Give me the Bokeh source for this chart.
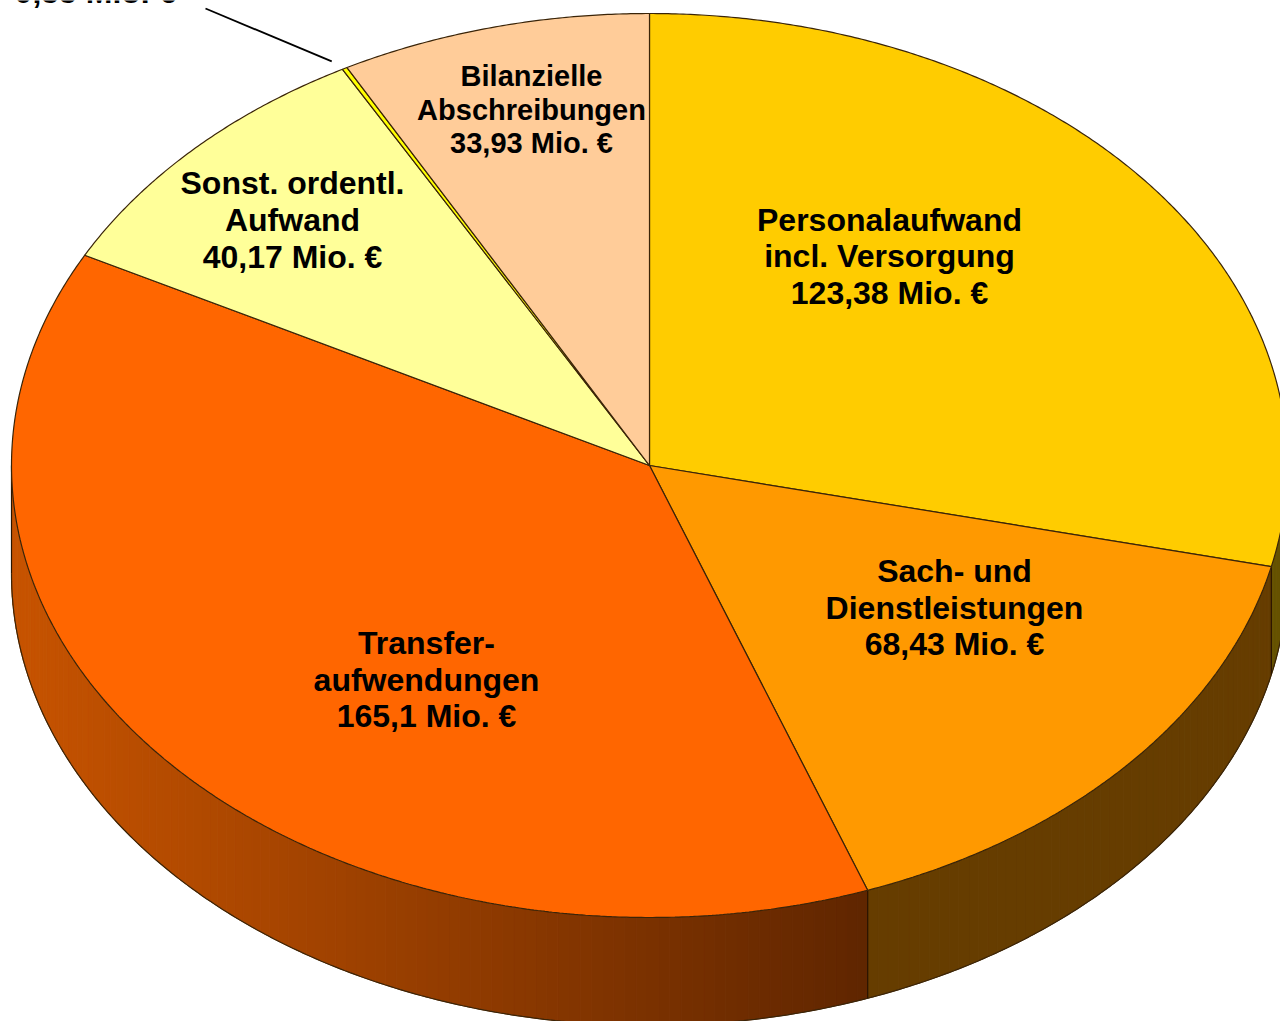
import numpy as np
from bokeh.plotting import figure
from bokeh.models import Range1d
from bokeh.core.properties import value
from bokeh.embed import file_html
from bokeh.resources import INLINE

# Data, clockwise from twelve o'clock
categories = ["Personalaufwand incl. Versorgung", "Sach- und Dienstleistungen", "Transferaufwendungen",
              "Sonst. ordentl. Aufwand", "Sonstige", "Bilanzielle Abschreibungen"]
amounts = [123.38, 68.43, 165.1, 40.17, 0.55, 33.93]
top_colors = ["#FFCC00", "#FF9900", "#FF6600", "#FFFF99", "#FFFF00", "#FFCC99"]
wall_left = ["#665200", "#663D00", "#C85400", "#666600", "#666600", "#66523D"]
wall_right = ["#665200", "#663D00", "#602600", "#666600", "#666600", "#66523D"]

label_lines = ["Personalaufwand", "incl. Versorgung", "123,38 Mio. €",
               "Sach- und", "Dienstleistungen", "68,43 Mio. €",
               "Transfer-", "aufwendungen", "165,1 Mio. €",
               "Sonst. ordentl.", "Aufwand", "40,17 Mio. €",
               "Bilanzielle", "Abschreibungen", "33,93 Mio. €",
               "0,55 Mio. €"]
label_x = [889, 889, 889, 954, 954, 954, 426, 426, 426, 292, 292, 292, 531, 531, 531, 95]
label_y = [219, 255, 292, 570, 607, 643, 642, 679, 715, 182, 219, 256, 75, 109, 142, -9]
label_size = [32] * 12 + [29] * 3 + [32]

CX, CY, RX, RY, DEPTH = 649, 465, 638, 452, 108
EDGE = "#3A2408"


def rim(t, drop=0):
    r = np.radians(t)
    return CX + RX * np.sin(r), CY - RY * np.cos(r) + drop


fractions = np.array(amounts) / sum(amounts)
ends = np.cumsum(fractions) * 360
starts = np.concatenate([[0], ends[:-1]])

p = figure(width=1280, height=1021, output_backend="svg", toolbar_location=None,
           x_range=Range1d(0, 1280), y_range=Range1d(1021, 0),
           min_border=0, outline_line_color=None)
p.axis.visible = False
p.grid.visible = False

# Side wall, drawn as thin strips for the shading
for i, (a, b) in enumerate(zip(starts, ends)):
    lo, hi = max(a, 90), min(b, 270)
    if hi <= lo:
        continue
    c0 = np.array([int(wall_left[i][k:k + 2], 16) for k in (1, 3, 5)], float)
    c1 = np.array([int(wall_right[i][k:k + 2], 16) for k in (1, 3, 5)], float)
    n = max(int(hi - lo), 1)
    edges = np.linspace(lo, hi, n + 1)
    xs, ys, cols = [], [], []
    for t0, t1 in zip(edges[:-1], edges[1:]):
        tt = np.linspace(t0, t1, 4)
        xt, yt = rim(tt)
        xb, yb = rim(tt[::-1], DEPTH)
        xs.append(np.concatenate([xt, xb]))
        ys.append(np.concatenate([yt, yb]))
        mix = (rim((t0 + t1) / 2)[0] - CX + RX) / (rim(160)[0] - CX + RX)
        mix = np.clip(mix, 0, 1)
        col = c0 + (c1 - c0) * mix
        cols.append("#%02X%02X%02X" % tuple(int(v) for v in col))
    p.patches(xs, ys, fill_color=cols, line_color=cols, line_width=1)

# Wall outlines
tb = np.linspace(90, 270, 361)
xb, yb = rim(tb, DEPTH)
p.line(xb, yb, line_color=EDGE, line_width=1.2)
for t in list(ends[ends < 270]) + [270]:
    xe, ye = rim(t)
    p.line([xe, xe], [ye, ye + DEPTH], line_color="#2A1500", line_width=1.2)

# Top face
for a, b, col in zip(starts, ends, top_colors):
    tt = np.linspace(a, b, max(int((b - a) * 3), 8))
    xt, yt = rim(tt)
    p.patch(np.concatenate([[CX], xt]), np.concatenate([[CY], yt]),
            fill_color=col, line_color=EDGE, line_width=1.2)

# Leader line of the smallest slice
xm, ym = rim((starts[4] + ends[4]) / 2)
p.line([205, xm - 13], [8, ym - 7], line_color="#000000", line_width=1.8)

for x, y, s, size in zip(label_x, label_y, label_lines, label_size):
    p.text([x], [y], text=[s], text_font=value("Liberation Sans"), text_font_style="bold",
           text_font_size=f"{size}px", text_color="#000000",
           text_align="center", text_baseline="alphabetic")

open("out.html", "w").write(file_html(p, INLINE))
